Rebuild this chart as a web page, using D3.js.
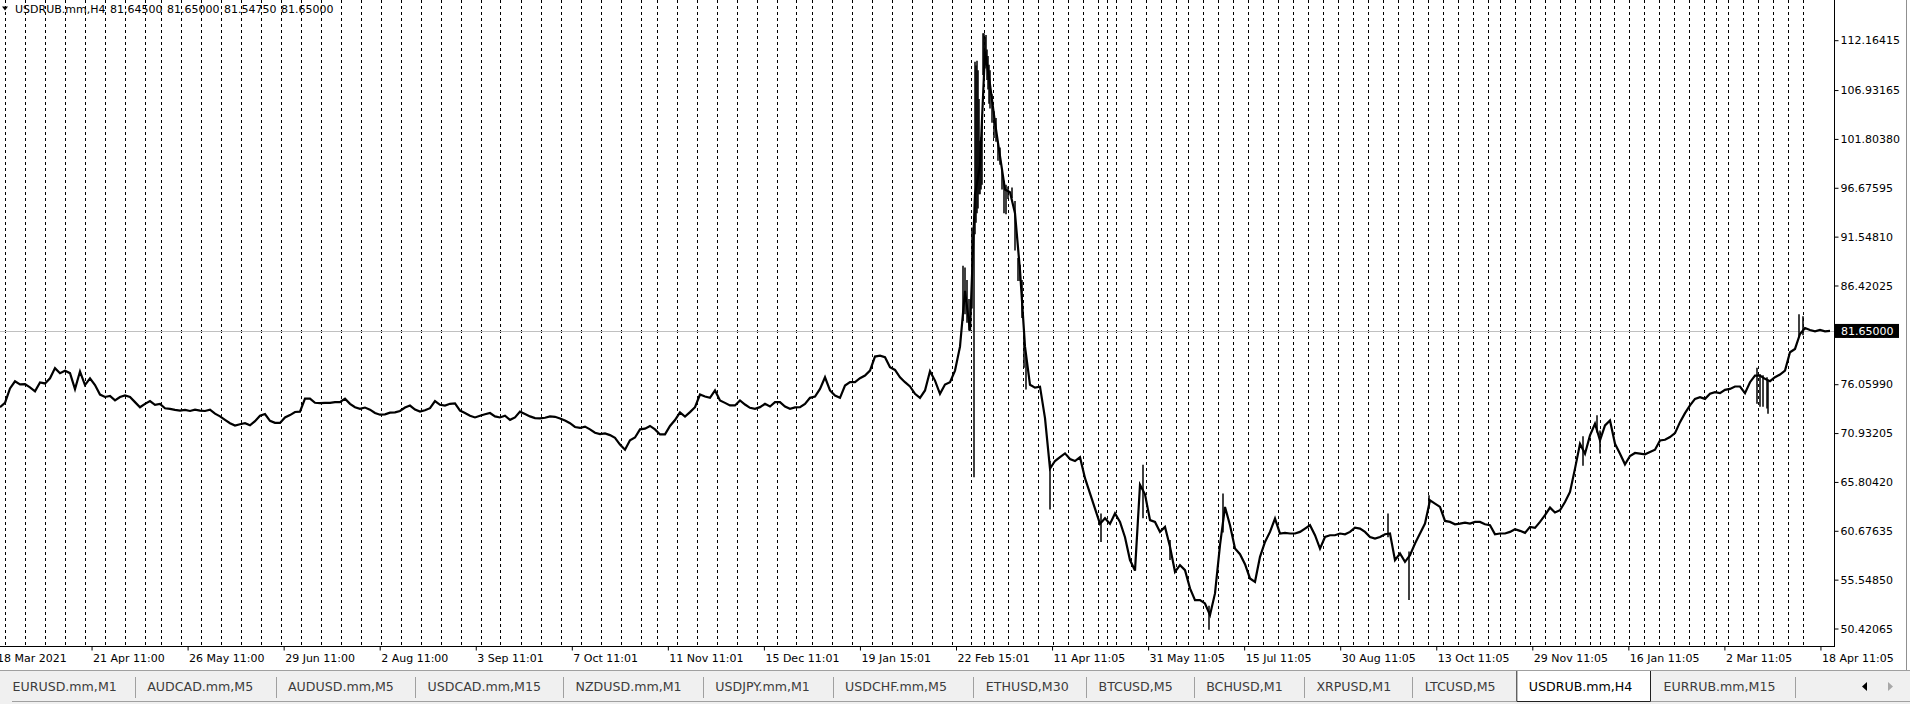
<!DOCTYPE html>
<html><head><meta charset="utf-8">
<script src="https://cdn.jsdelivr.net/npm/d3@7"></script>
<style>
html,body{margin:0;padding:0;background:#fff;overflow:hidden}
svg{display:block}
text{font-family:"DejaVu Sans",sans-serif}
</style></head><body>
<svg id="c" width="1910" height="704"></svg>
<script>
// ---------------- DATA ----------------
const symbolTitle = "USDRUB.mm,H4";
const ohlcText = ["81.64500", "81.65000", "81.54750", "81.65000"];
const bidPrice = 81.65;
const bidLabel = "81.65000";

const priceTicks = [112.16415, 106.93165, 101.80380, 96.67595, 91.54810, 86.42025, 81.29240,
                    76.05990, 70.93205, 65.80420, 60.67635, 55.54850, 50.42065];
const priceTickLabels = ["112.16415", "106.93165", "101.80380", "96.67595", "91.54810", "86.42025", "81.29240",
                         "76.05990", "70.93205", "65.80420", "60.67635", "55.54850", "50.42065"];

const timeLabels = ["18 Mar 2021", "21 Apr 11:00", "26 May 11:00", "29 Jun 11:00", "2 Aug 11:00", "3 Sep 11:01",
  "7 Oct 11:01", "11 Nov 11:01", "15 Dec 11:01", "19 Jan 15:01", "22 Feb 15:01", "11 Apr 11:05",
  "31 May 11:05", "15 Jul 11:05", "30 Aug 11:05", "13 Oct 11:05", "29 Nov 11:05", "16 Jan 11:05",
  "2 Mar 11:05", "18 Apr 11:05"];
const firstLabelBar = -4.5;      // bar index of first time label
const barsPerLabel = 96.05;      // bars between time labels

// bar index where the first weekly separator sits, then H4 bars in each following week
const firstWeekBar = 4.5;
const weekBars = [20,20,20,20,20,20,20,16,20,20,20,20,20,20,20,20,20,20,20,20,20,20,20,20,20,20,20,20,20,20,20,20,16,20,20,
  20,20,20,20,19,16,20,20,20,20,20,20,20,20,
  12,9,15,15,15,15,15,15,15,9,9,15,15,15,15,12,15,
  15,15,15,15,15,15,15,15,15,15,15,15,15,15,15,15,15,15,15,
  12,15,15,15,15,15,15,10,14,15,15,15,15,15,15,12,12,15,15,15,15,15,15];

// close prices, one every 5 H4 bars
const barStep = 5;
const closes = [
  73.64,74.11,75.61,76.36,76.04,76.07,75.72,75.32,76.25,76.14,
  76.68,77.75,77.22,77.47,77.22,75.54,77.39,75.97,76.68,75.97,
  74.97,74.72,74.82,74.36,74.72,74.89,74.72,74.18,73.64,74.00,
  74.29,73.90,74.00,73.54,73.47,73.36,73.29,73.36,73.25,73.39,
  73.29,73.25,73.39,72.97,72.68,72.32,71.97,71.72,71.86,71.97,
  71.75,72.18,72.75,72.93,72.22,72.00,72.00,72.57,72.82,73.14,
  73.18,74.54,74.54,74.11,74.07,74.11,74.11,74.18,74.18,74.54,
  74.00,73.64,73.47,73.61,73.39,73.04,72.86,72.90,73.07,73.11,
  73.25,73.61,73.82,73.39,73.18,73.32,73.54,74.29,73.90,73.82,
  74.00,74.04,73.29,73.04,72.75,72.57,72.75,72.90,73.04,72.68,
  72.57,72.75,72.32,72.57,73.18,72.93,72.68,72.50,72.47,72.54,
  72.68,72.64,72.47,72.25,71.97,71.57,71.47,71.61,71.32,70.97,
  70.82,70.89,70.72,70.43,69.72,69.18,70.18,70.47,71.32,71.39,
  71.68,71.32,70.79,70.79,71.68,72.30,73.10,
  72.67,73.13,73.65,74.98,74.77,74.63,75.40,74.35,74.10,73.83,
  73.83,74.35,73.93,73.58,73.48,73.65,74.00,73.72,74.17,74.17,
  73.72,73.48,73.62,73.65,74.00,74.63,74.77,75.57,76.79,75.40,
  74.87,74.63,75.92,76.27,76.27,76.69,76.97,77.49,78.96,79.06,
  78.89,77.84,77.56,76.79,76.27,75.82,75.05,74.63,75.40,77.42,
  76.44,75.05,76.02,76.27,77.49,80.00,85.86,
  81.67,96.0,99.0,111.0,107.5,103.5,100.0,96.5,96.2,94.0,88.0,80.0,76.0,75.7,75.8,72.5,67.2,
  68.0,68.4,68.8,68.2,68.0,68.4,66.2,64.6,63.0,61.4,62.0,61.4,62.5,61.6,60.0,57.6,56.5,65.5,
  64.5,61.8,61.6,60.56,61.08,58.99,56.37,57.07,56.55,54.63,
  53.40,53.40,53.05,51.83,54.10,59.16,63.18,61.26,58.81,58.22,
  57.17,55.67,55.32,57.94,59.51,60.56,61.96,60.39,60.45,60.39,
  60.39,60.56,60.91,61.26,60.21,58.81,60.03,60.21,60.21,60.39,
  60.31,60.56,61.01,60.91,60.56,60.03,59.86,60.03,60.31,60.39,
  57.59,58.29,57.42,58.12,59.34,60.39,61.43,63.87,63.53,63.18,
  61.71,61.61,61.36,61.43,61.54,61.43,61.61,61.61,61.36,61.26,
  60.31,60.39,
  60.39,60.56,60.84,60.67,60.46,61.09,60.98,61.61,62.31,63.11,
  62.59,62.83,63.70,64.75,67.20,69.81,68.77,70.69,71.91,70.16,
  71.73,72.26,69.81,68.77,67.65,68.52,68.84,68.77,68.70,68.94,
  69.18,70.16,70.23,70.51,70.93,72.08,73.02,73.83,74.52,74.70,
  74.52,75.05,75.22,75.12,75.47,75.57,75.82,75.82,75.12,76.27,
  76.97,76.97,76.62,76.38,76.79,77.07,77.49,79.41,79.76,81.33,
  81.96,81.75,81.61,81.75,81.61,81.65
];

// individual bars with large ranges: [bar index, low, high]
const wicks = [
  [963,82.7,88.5],[965,83.4,88.3],[967,82.5,87.0],[969,81.7,85.0],
  [972,84.0,92.5],[974,66.3,92.0],[975,91.8,109.9],[976,93.0,109.5],[977,94.0,110.0],[978,94.5,109.0],
  [979,96.0,106.0],[980,96.0,101.6],[981,96.5,102.0],[982,97.0,104.0],
  [983,108.5,112.9],[984,109.0,112.9],[985,109.2,112.5],[986,109.5,112.7],[987,108.0,111.2],[988,107.0,110.5],
  [989,105.5,109.6],[990,105.0,109.0],[992,103.5,106.5],[994,101.9,104.7],[996,101.5,104.0],[998,99.5,101.5],
  [1000,99.1,100.9],[1002,96.5,98.5],[1004,94.0,97.4],[1006,93.9,97.0],[1008,95.5,96.8],[1012,95.6,96.7],
  [1015,90.1,95.3],[1018,86.9,89.3],[1020,86.9,88.6],[1022,83.0,87.0],[1024,77.8,81.3],[1026,75.5,79.0],
  [1050,62.9,68.0],[1101,59.5,62.5],[1143,62.0,67.6],[1170,57.6,59.7],[1209,50.3,52.8],[1223,60.5,64.6],
  [1388,60.0,62.5],[1409,53.4,58.5],[1429,63.0,64.4],
  [1583,67.5,70.6],[1597,71.0,72.8],[1600,68.8,71.2],[1757,74.0,77.8],[1760,73.7,77.1],[1763,73.7,77.0],
  [1767,73.5,76.8],[1768,72.95,76.4],[1799,81.0,83.4],[1803,81.2,83.2]
];

const tabs = ["EURUSD.mm,M1","AUDCAD.mm,M5","AUDUSD.mm,M5","USDCAD.mm,M15","NZDUSD.mm,M1","USDJPY.mm,M1",
  "USDCHF.mm,M5","ETHUSD,M30","BTCUSD,M5","BCHUSD,M1","XRPUSD,M1","LTCUSD,M5","USDRUB.mm,H4","EURRUB.mm,M15"];
const activeTab = "USDRUB.mm,H4";

// ---------------- LAYOUT ----------------
const W = 1910, H = 704;
const plotR = 1834.5, plotB = 646.5;
const tabEdges = [0, 134.7, 275.5, 415, 563, 702.8, 832.6, 973.3, 1086, 1193.7, 1303.9, 1412.2, 1516.3, 1651, 1794.8];
const svg = d3.select("#c");

const x = d3.scaleLinear().domain([0, 1834]).range([0, 1834]);
const y = d3.scaleLinear().domain([50.42065, 112.16415]).range([628.5, 40.2]);

svg.append("rect").attr("width", W).attr("height", H).attr("fill", "#fff");

svg.append("defs").append("clipPath").attr("id", "plotClip")
  .append("rect").attr("x", 0).attr("y", 0).attr("width", plotR).attr("height", plotB);

const plot = svg.append("g").attr("clip-path", "url(#plotClip)");

// weekly period separators
const sepBars = [firstWeekBar];
weekBars.forEach(n => sepBars.push(sepBars[sepBars.length - 1] + n));
plot.selectAll("line.sep").data(sepBars.slice(0, -1)).join("line")
  .attr("class", "sep")
  .attr("x1", d => Math.round(x(d)) + 0.5).attr("x2", d => Math.round(x(d)) + 0.5)
  .attr("y1", 0).attr("y2", plotB)
  .attr("stroke", "#000").attr("stroke-width", 1).attr("stroke-dasharray", "3,3");

// bid line
plot.append("line").attr("x1", 0).attr("x2", plotR)
  .attr("y1", Math.round(y(bidPrice)) + 0.5).attr("y2", Math.round(y(bidPrice)) + 0.5)
  .attr("stroke", "#c0c0c0").attr("stroke-width", 1);

// price line
const line = d3.line().x((d, i) => x(i * barStep)).y(d => y(d));
plot.append("path").datum(closes).attr("d", line)
  .attr("fill", "none").attr("stroke", "#000").attr("stroke-width", 2.2).attr("stroke-linejoin", "miter");

plot.selectAll("line.wick").data(wicks).join("line").attr("class", "wick")
  .attr("x1", d => x(d[0])).attr("x2", d => x(d[0]))
  .attr("y1", d => y(d[1])).attr("y2", d => y(d[2]))
  .attr("stroke", "#000").attr("stroke-width", 1.5);

// borders
svg.append("line").attr("x1", plotR).attr("x2", plotR).attr("y1", 0).attr("y2", plotB + 0.5).attr("stroke", "#000");
svg.append("line").attr("x1", 0).attr("x2", plotR).attr("y1", plotB).attr("y2", plotB).attr("stroke", "#000");

// right price axis
const yAxis = d3.axisRight(y).tickValues(priceTicks)
  .tickFormat((d, i) => priceTickLabels[i]).tickSize(4).tickPadding(2);
const ya = svg.append("g").attr("transform", `translate(${plotR},0)`).call(yAxis);
ya.select(".domain").remove();
ya.selectAll("line").attr("stroke", "#000");
ya.selectAll("text").attr("font-family", "DejaVu Sans").attr("font-size", 11).attr("fill", "#000");

// bid box
svg.append("rect").attr("x", plotR + 0.5).attr("y", y(bidPrice) - 7).attr("width", 64).attr("height", 14).attr("fill", "#000");
svg.append("text").attr("x", 1841).attr("y", y(bidPrice)).attr("dy", "0.36em")
  .attr("font-size", 11).attr("fill", "#fff").text(bidLabel);

// time axis
const labelBars = timeLabels.map((t, i) => firstLabelBar + i * barsPerLabel);
const xAxis = d3.axisBottom(x).tickValues(labelBars).tickFormat((d, i) => timeLabels[i]).tickSize(4).tickPadding(4);
const xa = svg.append("g").attr("transform", `translate(0,${plotB})`).call(xAxis);
xa.select(".domain").remove();
xa.selectAll("line").attr("stroke", "#000");
xa.selectAll("text").attr("font-family", "DejaVu Sans").attr("font-size", 11).attr("fill", "#000")
  .attr("text-anchor", "start").attr("dx", 1);

// title
svg.append("path").attr("d", "M2,6.5 L8,6.5 L5,10.5 Z").attr("fill", "#000");
svg.append("text").attr("x", 15).attr("y", 9).attr("dy", "0.36em").attr("font-size", 11).attr("fill", "#000")
  .text(symbolTitle);
ohlcText.forEach((t, i) => {
  svg.append("text").attr("x", 110 + i * 57).attr("y", 9).attr("dy", "0.36em").attr("font-size", 11).attr("fill", "#000").text(t);
});

// right window edge
svg.append("line").attr("x1", 1906.5).attr("x2", 1906.5).attr("y1", 0).attr("y2", 670).attr("stroke", "#909090");

// tab strip
svg.append("rect").attr("x", 0).attr("y", 671).attr("width", W).attr("height", 33).attr("fill", "#f0f0f0");
svg.append("line").attr("x1", 0).attr("x2", W).attr("y1", 670.5).attr("y2", 670.5).attr("stroke", "#a0a0a0");
svg.append("line").attr("x1", 12).attr("x2", W).attr("y1", 701.5).attr("y2", 701.5).attr("stroke", "#a0a0a0");

const tabG = svg.append("g");
tabs.forEach((name, i) => {
  const isActive = name === activeTab;
  const l = tabEdges[i], r = tabEdges[i + 1];
  if (isActive) {
    tabG.append("rect").attr("x", l).attr("y", 671).attr("width", r - l).attr("height", 31).attr("fill", "#fff");
    tabG.append("path").attr("d", `M${l+0.5},671 V701.5 H${r-0.5} V671`).attr("fill", "none").attr("stroke", "#202020");
  } else if (tabs[i + 1] !== activeTab) {
    tabG.append("line").attr("x1", Math.round(r) + 0.5).attr("x2", Math.round(r) + 0.5)
      .attr("y1", 677).attr("y2", 698).attr("stroke", "#a0a0a0");
  }
  tabG.append("text").attr("x", l + 12.5).attr("y", 686.5).attr("dy", "0.36em")
    .attr("font-size", 12.6).attr("fill", isActive ? "#000" : "#3c3c3c").text(name);
});
// scroll arrows
svg.append("path").attr("d", "M1862,686.5 L1867,682 L1867,691 Z").attr("fill", "#000");
svg.append("path").attr("d", "M1893,686.5 L1888,682 L1888,691 Z").attr("fill", "#a8a8a8");
</script>
</body></html>
